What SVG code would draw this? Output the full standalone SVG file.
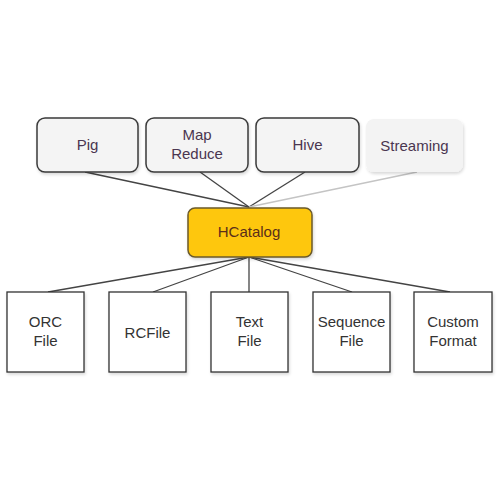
<svg xmlns="http://www.w3.org/2000/svg" width="500" height="500" viewBox="0 0 500 500">
<defs>
<filter id="sh" x="-10%" y="-10%" width="130%" height="130%">
<feDropShadow dx="1" dy="2" stdDeviation="1.5" flood-color="#000" flood-opacity="0.15"/>
</filter>
<style>
.top{fill:#f4f4f4;stroke:#3a3a3a;stroke-width:1.5}
.file{fill:#fff;stroke:#333;stroke-width:1.3}
.tt{font-family:"Liberation Sans",Arial,sans-serif;font-size:15px;fill:#4a3650;text-anchor:middle}
.ft{font-family:"Liberation Sans",Arial,sans-serif;font-size:15px;fill:#333;text-anchor:middle}
.c{stroke:#444;stroke-width:1.3;fill:none}
</style>
</defs>
<rect width="500" height="500" fill="#fff"/>
<g id="connectors">
<line class="c" x1="85" y1="172" x2="249" y2="207"/>
<line class="c" x1="200" y1="172" x2="249" y2="207"/>
<line class="c" x1="305" y1="172" x2="249" y2="207"/>
<line class="c" x1="417" y1="172" x2="249" y2="207" style="stroke:#c4c4c4"/>
<line class="c" x1="249" y1="257" x2="48" y2="292"/>
<line class="c" x1="249" y1="257" x2="153" y2="292"/>
<line class="c" x1="249" y1="257" x2="249" y2="292"/>
<line class="c" x1="249" y1="257" x2="352" y2="292"/>
<line class="c" x1="249" y1="257" x2="450" y2="292"/>
</g>
<g id="pig"><rect class="top" x="37" y="118" width="101" height="54" rx="8" filter="url(#sh)"/><text class="tt" x="87.5" y="150">Pig</text></g>
<g id="mapreduce"><rect class="top" x="146" y="118" width="102" height="54" rx="8" filter="url(#sh)"/><text class="tt" x="197" y="140">Map</text><text class="tt" x="197" y="159">Reduce</text></g>
<g id="hive"><rect class="top" x="256" y="118" width="103" height="54" rx="8" filter="url(#sh)"/><text class="tt" x="307.5" y="150">Hive</text></g>
<g id="streaming"><rect x="366" y="119" width="97" height="53" rx="8" fill="#f3f3f3" filter="url(#sh)"/><text class="tt" x="414.5" y="151">Streaming</text></g>
<g id="hcatalog"><rect x="188" y="208" width="124" height="49" rx="7" fill="#fec70b" stroke="#6b5a2a" stroke-width="1.5" filter="url(#sh)"/><text x="249" y="237" font-family="Liberation Sans,Arial,sans-serif" font-size="15" fill="#5a2e1a" text-anchor="middle">HCatalog</text></g>
<g id="orc"><rect class="file" x="7" y="292" width="77" height="80" filter="url(#sh)"/><text class="ft" x="45.5" y="327">ORC</text><text class="ft" x="45.5" y="346">File</text></g>
<g id="rcfile"><rect class="file" x="109" y="292" width="77" height="80" filter="url(#sh)"/><text class="ft" x="147.5" y="338">RCFile</text></g>
<g id="textfile"><rect class="file" x="211" y="292" width="77" height="80" filter="url(#sh)"/><text class="ft" x="249.5" y="327">Text</text><text class="ft" x="249.5" y="346">File</text></g>
<g id="sequence"><rect class="file" x="313" y="292" width="77" height="80" filter="url(#sh)"/><text class="ft" x="351.5" y="327">Sequence</text><text class="ft" x="351.5" y="346">File</text></g>
<g id="custom"><rect class="file" x="414" y="292" width="78" height="80" filter="url(#sh)"/><text class="ft" x="453" y="327">Custom</text><text class="ft" x="453" y="346">Format</text></g>
</svg>
